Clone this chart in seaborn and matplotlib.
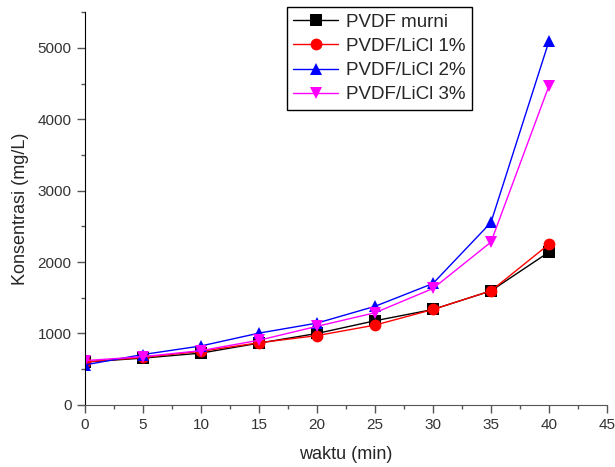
import numpy as np
import pandas as pd
import matplotlib
matplotlib.use("Agg")
import matplotlib.pyplot as plt
import seaborn as sns
from matplotlib.ticker import MultipleLocator

waktu = [0, 5, 10, 15, 20, 25, 30, 35, 40]
series_names = ["PVDF murni", "PVDF/LiCl 1%", "PVDF/LiCl 2%", "PVDF/LiCl 3%"]
murni = [600, 655, 725, 865, 1000, 1178, 1336, 1597, 2140]
licl1 = [600, 665, 750, 870, 970, 1117, 1336, 1597, 2250]
licl2 = [560, 705, 825, 1005, 1145, 1380, 1700, 2555, 5095]
licl3 = [620, 675, 760, 905, 1100, 1290, 1630, 2280, 4470]

colors = ["#000000", "#ff0000", "#0000ff", "#ff00ff"]
markers = ["s", "o", "^", "v"]

df = pd.DataFrame({
    "waktu": waktu * 4,
    "konsentrasi": murni + licl1 + licl2 + licl3,
    "seri": sum([[n] * len(waktu) for n in series_names], []),
})

sns.set_style("white")
plt.rcParams["font.family"] = ["Liberation Sans", "DejaVu Sans"]

fig = plt.figure(figsize=(6.15, 4.67), dpi=100)
ax = fig.add_axes([0.138, 0.133, 0.849, 0.841])

sns.lineplot(data=df, x="waktu", y="konsentrasi", hue="seri", style="seri",
             hue_order=series_names, style_order=series_names,
             palette=colors, markers=markers, dashes=False,
             markersize=8.5, markeredgewidth=0, linewidth=1, ax=ax)

ax.set_xlim(0, 45)
ax.set_ylim(0, 5500)
ax.xaxis.set_major_locator(MultipleLocator(5))
ax.xaxis.set_minor_locator(MultipleLocator(2.5))
ax.yaxis.set_major_locator(MultipleLocator(1000))
ax.yaxis.set_minor_locator(MultipleLocator(500))
ax.tick_params(which="major", direction="out", length=6, width=1, color="#555555",
               labelsize=11, labelcolor="#333333", bottom=True, left=True)
ax.tick_params(which="minor", direction="out", length=3, width=1, color="#555555",
               bottom=True, left=True)
for s in ["top", "right"]:
    ax.spines[s].set_visible(False)
ax.spines["left"].set_color("#000000")
ax.spines["bottom"].set_color("#555555")

ax.set_xlabel("waktu (min)", fontsize=13, labelpad=10)
ax.set_ylabel("Konsentrasi (mg/L)", fontsize=13, labelpad=6)

leg = ax.legend(loc="upper left", bbox_to_anchor=(0.387, 1.013), fontsize=13.5,
                frameon=True, fancybox=False, edgecolor="black", framealpha=1,
                handlelength=2.4, borderpad=0.35, labelspacing=0.38, handletextpad=0.4,
                borderaxespad=0)
leg.get_frame().set_linewidth(1)

fig.savefig("out.png", dpi=100)
